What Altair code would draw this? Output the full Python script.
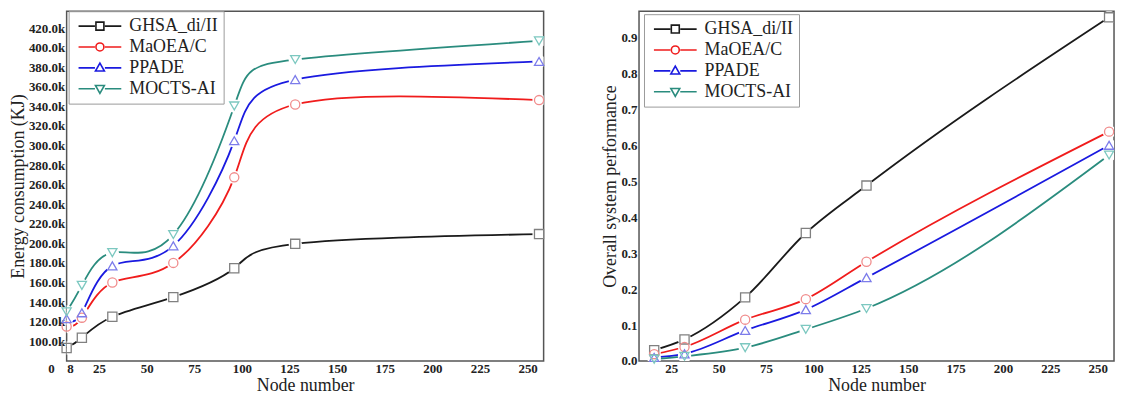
import altair as alt
import pandas as pd

series = ["GHSA_di/II", "MaOEA/C", "PPADE", "MOCTS-AI"]
line_colors = ["#1a1a1a", "#f01c1c", "#1a1ae0", "#2a8c7e"]
marker_colors = ["#808080", "#f08c8c", "#7c7cea", "#7cc8c0"]
marker_shapes = ["square", "circle", "triangle-up", "triangle-down"]

# Left panel: energy consumption (thousands of KJ)
nodes_energy = [8, 16, 32, 64, 96, 128, 256]
energy_ghsa = [93, 103.5, 125, 145, 174.5, 199.5, 209.5]
energy_maoea = [115, 124, 160, 180, 267.5, 342, 346.5]
energy_ppade = [123, 129, 177, 197.5, 305, 367.5, 386]
energy_mocts = [130, 157, 190.5, 209, 340.5, 388, 407]

# Right panel: overall system performance
nodes_perf = [16, 32, 64, 96, 128, 256]
perf_ghsa = [0.030, 0.060, 0.177, 0.356, 0.488, 0.956]
perf_maoea = [0.019, 0.039, 0.115, 0.172, 0.276, 0.638]
perf_ppade = [0.010, 0.020, 0.085, 0.143, 0.232, 0.600]
perf_mocts = [0.005, 0.013, 0.037, 0.088, 0.146, 0.573]

x_ticks_left = [8, 25, 50, 75, 100, 125, 150, 175, 200, 225, 250]
x_extra_label = [0]
x_ticks_right = [25, 50, 75, 100, 125, 150, 175, 200, 225, 250]
y_ticks_left = [100, 120, 140, 160, 180, 200, 220, 240, 260, 280, 300, 320, 340, 360, 380, 400, 420]
y_ticks_right = [0.0, 0.1, 0.2, 0.3, 0.4, 0.5, 0.6, 0.7, 0.8, 0.9]

# legend symbols: line - marker - line
legend_paths = [
    "M-1,0H2.3M4.3,0H7.6M2.5,-0.8H4.1V0.8H2.5Z",
    "M-1,0H2.3M4.3,0H7.6M4.1,0A0.8,0.8,0,1,1,2.5,0A0.8,0.8,0,1,1,4.1,0Z",
    "M-1,0H2.3M4.3,0H7.6M3.3,-0.95L4.2,0.65H2.4Z",
    "M-1,0H2.3M4.3,0H7.6M3.3,0.95L4.2,-0.65H2.4Z",
]

FONT = "Liberation Serif"
H = 352


def panel(nodes, values, xdom, ydom, xticks, yticks, label_expr, ytitle,
          width, height, lx, ly, interp, extra_x=None):
    rows = []
    for s, vals in zip(series, values):
        for n, v in zip(nodes, vals):
            rows.append({"node": n, "value": v, "series": s})
    df = pd.DataFrame(rows)

    X = alt.X("node:Q", scale=alt.Scale(domain=xdom, nice=False, zero=False),
              axis=alt.Axis(values=xticks, title="Node number", format="d"))
    Y = alt.Y("value:Q", scale=alt.Scale(domain=ydom, nice=False, zero=False),
              axis=alt.Axis(values=yticks, labelExpr=label_expr, title=ytitle))

    layers = []
    for s, lc in zip(series, line_colors):
        layers.append(
            alt.Chart(df).transform_filter(alt.datum.series == s)
            .mark_line(interpolate=interp, color=lc, strokeWidth=1.8)
            .encode(x=X, y=Y)
        )
    layers.append(
        alt.Chart(df).mark_point(shape="circle", filled=True, color="white",
                                 size=180, opacity=1, clip=True)
        .encode(x=X, y=Y)
    )
    for s, mc, shp in zip(series, marker_colors, marker_shapes):
        layers.append(
            alt.Chart(df).transform_filter(alt.datum.series == s)
            .mark_point(shape=shp, color=mc, size=85, strokeWidth=1.3,
                        filled=False, opacity=1)
            .encode(x=X, y=Y)
        )
    leg = alt.Legend(title=None, orient="none", legendX=lx, legendY=ly,
                     symbolSize=100, symbolStrokeWidth=1.6, symbolOpacity=1,
                     labelFont=FONT, labelFontSize=18, labelColor="#222",
                     labelOffset=37, padding=6, rowPadding=3,
                     strokeColor="#9a9a9a", fillColor="white")
    layers.append(
        alt.Chart(df).mark_point(opacity=0, size=1, filled=False, clip=True)
        .encode(
            x=X, y=Y,
            color=alt.Color("series:N", scale=alt.Scale(domain=series, range=line_colors), legend=leg),
            shape=alt.Shape("series:N", scale=alt.Scale(domain=series, range=legend_paths), legend=leg),
        )
    )
    if extra_x is not None:
        ex = pd.DataFrame({"node": extra_x, "label": [str(v) for v in extra_x]})
        layers.append(
            alt.Chart(ex).mark_text(font=FONT, fontWeight="bold", fontSize=13,
                                    color="#222", baseline="top", align="center")
            .encode(x=alt.X("node:Q"), y=alt.value(height + 2), text="label:N")
        )
    return alt.layer(*layers).properties(width=width, height=height)


left = panel(nodes_energy,
             [energy_ghsa, energy_maoea, energy_ppade, energy_mocts],
             [8, 258.4], [79.7, 437.4], x_ticks_left, y_ticks_left,
             "format(datum.value, '.1f') + 'k'", "Energy consumption (KJ)",
             480, H, 2, 0, "natural", x_extra_label)
right = panel(nodes_perf,
              [perf_ghsa, perf_maoea, perf_ppade, perf_mocts],
              [8, 258.6], [0, 0.973], x_ticks_right, y_ticks_right,
              "format(datum.value, '.1f')", "Overall system performance",
              478, H, 5, 3, "monotone")

chart = (
    alt.hconcat(left, right, spacing=54)
    .resolve_scale(color="independent", shape="independent")
    .resolve_legend(color="independent", shape="independent")
    .properties(padding={"left": 0, "top": 0, "right": 0, "bottom": 0},
                background="white")
    .configure_view(stroke="#555555", strokeWidth=1.5)
    .configure_axis(domain=False, ticks=False, grid=False,
                    labelFont=FONT, labelFontWeight="bold", labelFontSize=13,
                    labelColor="#222", labelPadding=2,
                    titleFont=FONT, titleFontWeight="normal", titleFontSize=18,
                    titleColor="#222", titlePadding=1)
)

chart.save("out.html", embed_options={"renderer": "svg", "actions": False})
